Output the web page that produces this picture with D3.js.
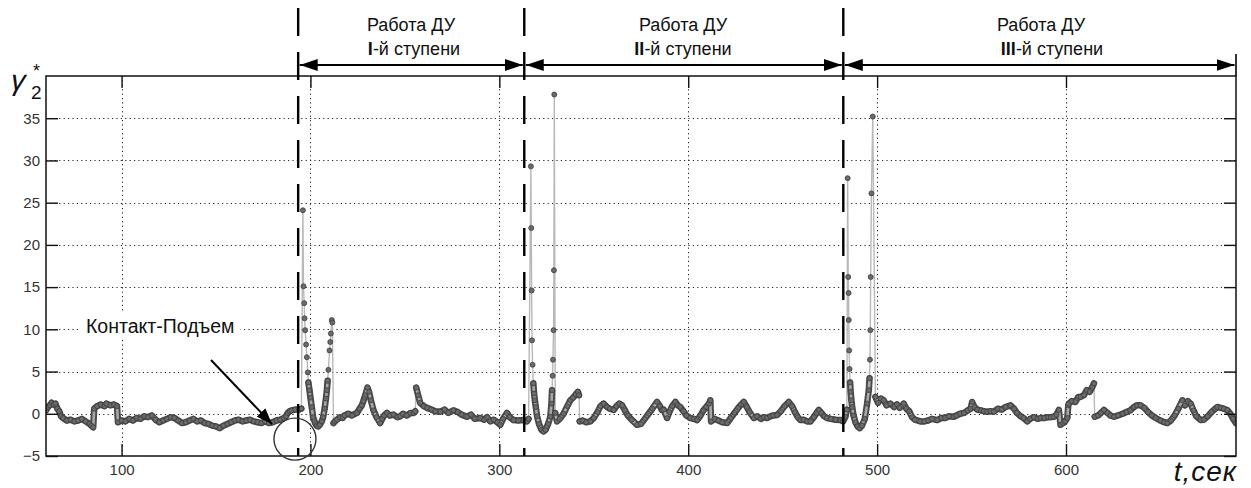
<!DOCTYPE html>
<html><head><meta charset="utf-8">
<script src="https://cdn.jsdelivr.net/npm/d3@7"></script>
<style>
html,body{margin:0;padding:0;background:#fff;}
svg{display:block;}
text{font-family:"Liberation Sans",Arial,sans-serif;}
</style></head>
<body><svg id="chart" width="1251" height="488"></svg>
<script>
// ---- data ----
const xTicks = [100, 200, 300, 400, 500, 600];
const yTicks = [-5, 0, 5, 10, 15, 20, 25, 30, 35];
const stageBounds = [193.5, 313.2, 482.1, 690];
const stageLine1 = ["Работа ДУ", "Работа ДУ", "Работа ДУ"];
const stageRoman = ["I", "II", "III"];
const stageLine2 = ["-й ступени", "-й ступени", "-й ступени"];
const annotationText = "Контакт-Подъем";

const tSec = [60,61,62,63,64,65,66,67,68,69,71,73,75,77,79,81,83,84,85,85.5,87,89,91,92,94,96,97.6,98.1,100,102,104,106,108,110,112,114,116,118,120,122,124,126,128,130,132,134,136,138,140,142,144,146,148,150,152,154,156,158,160,162,164,166,168,170,172,174,176,178,180,182,184,186,187,188,189,190,192,194,195.2,
196.0,196.3,196.7,196.9,197.2,197.7,198.1,198.6,198.9,199.5,200.0,200.7,201.4,202.5,203.3,204.1,205,206,206.7,207.5,208.2,208.7,209.1,209.5,210.1,210.5,210.8,211.3,211.6,212.2,213,214,215.7,217,218,220,222,224.6,226,227.2,228,229,230.2,231,232,233.4,235,236.9,238,239,240.5,242,244,246,247.5,249,251,253,254.6,255.5,256,257,258.1,260,261.7,264,266,268.7,271,273,275.7,278,280,282.8,285,287,289.9,292,293.5,295.2,297,299,300.5,302,304,305.5,307.5,310,312.7,314.6,315.5,
316.7,316.9,317.1,317.3,317.6,318.0,318.4,318.8,319.3,320,321,322.3,323.4,324.5,325.8,327,327.6,327.9,328.2,328.4,328.7,328.9,329.1,329.6,330.5,332,334,336,337.6,339,340.5,341.6,342.2,342.5,344,346,348.2,350,352,353.5,355.2,357,358.5,360.5,362,363.5,365,366.5,368,370,372.9,375,377,379,381,383.5,385,386,387,388.8,390,391.5,393.2,394.5,395.8,397.5,399,401.1,403,404.7,406.5,408,409.5,411,411.7,412.1,414,416,418,420.6,422.5,424.5,426.5,428,429.4,431,432.5,434.7,436.5,438.5,440,441.7,443.5,445,447,449,451,453.2,455,456.5,458,459.4,461,463,464.7,466.5,468,469.1,470.5,472,473.5,475.5,478,480.6,482,483.2,484.0,
484.4,484.7,484.9,485.0,485.2,485.4,485.7,486.0,486.4,486.8,487.5,488.5,489.7,490.8,492,493.5,494.7,495.6,496.0,496.2,496.4,496.6,497.0,497.7,499.1,500.5,502,503.5,505,507,509,510.5,512,514.1,515.5,517,518.5,520,522.9,525,527,529,531.8,534,536,538,540.6,542,544,546,548,549.5,550.3,551.5,553,555,556.5,558.3,560,561.8,564,566,568,570.6,572.5,574,576,577.5,579.5,581,583,585,586.5,588.5,590.5,592,593.6,595,596.2,597.1,598.5,599.5,600.7,601.2,601.5,603,605,606.5,607.7,609.5,611,612.5,614,614.8,615.2,617,618.5,620.1,622,623.5,625.4,627.5,630,632,634,636,637.5,639.5,641.5,643.5,645.5,647.5,650,652,653.6,655.5,657.5,659.5,661.6,663,664.5,666,667.5,669,671.3,673,675,677,679,680.1,682,683.5,685.4,687,688.5,690];

const gamma2 = [0.4,0.8,1.0,1.3,1.1,1.2,0.6,0.3,-0.3,-0.5,-0.8,-0.7,-0.9,-0.8,-0.6,-0.9,-1.2,-1.4,-1.6,0.6,0.9,1.1,0.9,1.2,1.0,1.1,0.9,-1.0,-0.8,-0.9,-0.6,-0.8,-0.5,-0.6,-0.3,-0.4,-0.2,-0.7,-1.0,-0.8,-0.6,-0.4,-0.5,-0.8,-1.1,-1.0,-0.8,-0.6,-0.9,-0.8,-1.1,-1.2,-1.4,-1.5,-1.7,-1.4,-1.2,-1.0,-0.8,-0.7,-0.9,-0.8,-0.7,-0.9,-1.0,-1.1,-0.9,-1.1,-1.0,-0.8,-0.7,-0.5,-0.3,0.1,0.3,0.4,0.5,0.5,0.6,
24.1,15.1,13.1,11.3,9.9,8.2,6.7,4.9,3.7,2.8,1.9,0.8,-0.4,-1.1,-1.4,-1.5,-1.3,-0.9,-0.4,0.6,1.8,2.8,3.9,5.2,7.5,8.5,9.5,11.1,10.8,-1.1,-0.9,-0.7,-0.4,-0.5,-0.2,0.0,-0.2,0.1,0.6,1.0,1.5,2.2,3.1,2.6,1.6,0.4,-0.4,-1.1,-0.6,-0.2,0.1,-0.2,-0.1,-0.4,-0.3,0.0,-0.2,0.1,0.1,0.3,3.1,2.2,1.3,0.9,0.7,0.5,0.3,0.25,0.5,0.1,0.4,0.2,-0.1,-0.35,-0.1,-0.6,-0.5,-0.7,-0.4,-0.9,-0.7,-1.0,-1.3,-0.6,0.1,-0.4,-0.75,-0.8,-0.75,-0.9,-0.6,
29.3,22.0,14.6,8.7,5.8,3.6,2.4,1.6,0.8,-0.3,-1.2,-1.9,-2.1,-1.9,-1.2,-0.35,1.2,2.8,4.5,6.4,9.9,17.0,37.8,0.1,-0.9,-0.6,0.0,0.9,1.6,1.9,2.3,2.6,2.2,-0.9,-0.8,-1.0,-0.9,-0.5,0.2,0.9,1.2,0.8,0.6,0.45,0.9,1.2,1.0,0.4,-0.2,-0.7,-1.3,-1.2,-0.6,0.0,0.6,1.4,0.9,0.45,0.5,-0.5,0.2,0.9,1.4,1.0,0.8,0.3,-0.2,-0.5,-0.6,-0.75,-0.2,0.4,0.8,1.2,1.6,-0.9,-0.6,-0.8,-1.0,-1.1,-0.5,0.1,0.7,1.1,1.4,0.8,0.2,-0.5,-0.3,-0.6,-0.4,-0.5,-0.3,-0.2,-0.15,0.3,0.9,1.4,0.9,0.2,-0.4,-0.75,-0.7,-0.9,-0.9,-0.4,0.1,0.45,0.1,-0.3,-0.5,-0.6,-0.7,-0.75,-0.9,-0.35,0.5,
27.9,16.2,14.3,11.1,7.5,5.3,3.7,2.6,1.6,0.8,-0.2,-1.0,-1.5,-1.7,-1.4,-0.6,1.2,2.8,4.2,6.4,9.9,16.2,26.1,35.2,2.0,1.3,1.8,1.6,1.0,1.2,0.8,1.1,0.7,1.2,0.6,0.3,-0.4,-0.7,-0.9,-0.9,-0.8,-0.6,-0.75,-0.5,-0.5,-0.3,-0.35,-0.2,0.0,0.1,0.4,0.6,1.4,0.8,0.5,0.4,0.3,0.25,0.3,0.25,0.6,0.5,0.8,1.0,0.6,0.1,-0.3,-0.5,-0.9,-0.6,-0.4,-0.6,-0.5,-0.5,-0.4,-0.4,-0.35,-0.1,0.45,-1.3,-1.1,-0.9,-0.5,1.0,1.2,1.5,1.4,2.0,2.0,2.2,2.8,2.6,3.2,3.6,-0.35,-0.2,0.1,0.45,0.1,-0.2,-0.35,-0.2,0.0,0.2,0.4,0.8,1.0,1.0,0.7,0.2,-0.2,-0.5,-0.8,-1.0,-1.1,-0.8,-0.2,0.6,1.6,1.0,1.5,1.2,0.4,-0.3,-0.75,-0.7,-0.3,0.2,0.6,0.8,0.7,0.6,0.45,0.0,-0.6,-1.1];

// ---- drawing ----
const svg = d3.select("#chart");
const m = {left: 46, right: 1236, top: 76, bottom: 456};
const x = d3.scaleLinear().domain([60, 690]).range([m.left, m.right]);
const y = d3.scaleLinear().domain([-5, 40]).range([m.bottom, m.top]);
const pw = m.right - m.left, ph = m.bottom - m.top;

svg.append("defs").append("clipPath").attr("id", "clip")
  .append("rect").attr("x", m.left).attr("y", m.top).attr("width", pw).attr("height", ph);

// grid
const grid = svg.append("g").attr("stroke", "#222").attr("stroke-width", 1).attr("stroke-dasharray", "1.2,3.2");
grid.selectAll("line.gx").data(xTicks).join("line")
  .attr("x1", d => Math.round(x(d)) + 0.5).attr("x2", d => Math.round(x(d)) + 0.5)
  .attr("y1", m.top).attr("y2", m.bottom);
grid.selectAll("line.gy").data(yTicks.filter(v => v > -5)).join("line")
  .attr("y1", d => Math.round(y(d)) + 0.5).attr("y2", d => Math.round(y(d)) + 0.5)
  .attr("x1", m.left).attr("x2", m.right);

// annotation text with white box breaking the grid
const ann = svg.append("g");
const annText = ann.append("text").attr("x", 86).attr("y", 333)
  .attr("font-size", 19.5).attr("fill", "#111").text(annotationText);
const bb = annText.node().getBBox();
ann.insert("rect", "text").attr("x", bb.x - 6).attr("y", bb.y - 2)
  .attr("width", bb.width + 12).attr("height", bb.height + 4).attr("fill", "#fff");

// data
const pts = tSec.map((t, i) => [t, gamma2[i]]);
// contiguous low-variation runs form the dense marker "band"
const runs = [];
let cur = [pts[0]];
for (let i = 1; i < pts.length; i++) {
  if (Math.abs(pts[i][1] - pts[i - 1][1]) < 2.6 && Math.abs(pts[i][1]) < 4.5 && Math.abs(pts[i-1][1]) < 4.5) cur.push(pts[i]);
  else { runs.push(cur); cur = [pts[i]]; }
}
runs.push(cur);
const line = d3.line().x(d => x(d[0])).y(d => y(d[1]));
const plot = svg.append("g").attr("clip-path", "url(#clip)");
plot.append("path").datum(pts)
  .attr("fill", "none").attr("stroke", "#b8b8b8").attr("stroke-width", 1.4)
  .attr("d", line);
plot.selectAll("path.bandO").data(runs.filter(r => r.length > 1)).join("path")
  .attr("class", "bandO").attr("fill", "none").attr("stroke", "#4a4a4a")
  .attr("stroke-width", 6.5).attr("stroke-linejoin", "round").attr("stroke-linecap", "round")
  .attr("d", line);
plot.selectAll("path.bandI").data(runs.filter(r => r.length > 1)).join("path")
  .attr("class", "bandI").attr("fill", "none").attr("stroke", "#a8a8a8")
  .attr("stroke-width", 2.6).attr("stroke-linejoin", "round").attr("stroke-linecap", "round")
  .attr("d", line);
plot.selectAll("circle").data(pts).join("circle")
  .attr("cx", d => x(d[0])).attr("cy", d => y(d[1])).attr("r", 2.5)
  .attr("fill", "#6a6a6a").attr("stroke", "#3c3c3c").attr("stroke-width", 0.8);

// axes: inward ticks on all four sides
const fmt = d3.format("d");
const axL = svg.append("g").attr("transform", `translate(${m.left},0)`)
  .call(d3.axisLeft(y).tickValues(yTicks).tickSize(-12).tickPadding(6).tickFormat(fmt));
const axB = svg.append("g").attr("transform", `translate(0,${m.bottom})`)
  .call(d3.axisBottom(x).tickValues(xTicks).tickSize(-12).tickPadding(8).tickFormat(fmt));
const axR = svg.append("g").attr("transform", `translate(${m.right},0)`)
  .call(d3.axisRight(y).tickValues(yTicks).tickSize(-12).tickFormat(""));
const axT = svg.append("g").attr("transform", `translate(0,${m.top})`)
  .call(d3.axisTop(x).tickValues(xTicks).tickSize(-12).tickFormat(""));
[axL, axB, axR, axT].forEach(g => {
  g.select(".domain").remove();
  g.selectAll(".tick line").attr("stroke", "#111").attr("stroke-width", 1.4);
  g.selectAll("text").attr("font-size", 15).attr("fill", "#333")
    .attr("font-family", "Liberation Sans, Arial, sans-serif");
});
svg.append("rect").attr("x", m.left).attr("y", m.top).attr("width", pw).attr("height", ph)
  .attr("fill", "none").attr("stroke", "#111").attr("stroke-width", 1.5);

// stage boundaries (dashed) and arrows
svg.append("defs").html(`
  <marker id="ahE" viewBox="0 0 18 12" refX="18" refY="6" markerWidth="18" markerHeight="12" markerUnits="userSpaceOnUse" orient="auto">
    <path d="M0,0 L18,6 L0,12 Z" fill="#000"/></marker>
  <marker id="ahS" viewBox="0 0 18 12" refX="0" refY="6" markerWidth="18" markerHeight="12" markerUnits="userSpaceOnUse" orient="auto">
    <path d="M18,0 L0,6 L18,12 Z" fill="#000"/></marker>
  <marker id="ahA" viewBox="0 0 16 12" refX="16" refY="6" markerWidth="16" markerHeight="12" markerUnits="userSpaceOnUse" orient="auto">
    <path d="M0,0 L16,6 L0,12 Z" fill="#000"/></marker>`);

svg.selectAll("line.stage").data(stageBounds.slice(0, 3)).join("line")
  .attr("class", "stage")
  .attr("x1", d => x(d)).attr("x2", d => x(d))
  .attr("y1", 8).attr("y2", m.bottom)
  .attr("stroke", "#000").attr("stroke-width", 2.4).attr("stroke-dasharray", "28,16");
svg.append("line").attr("x1", x(stageBounds[3])).attr("x2", x(stageBounds[3]))
  .attr("y1", 54).attr("y2", m.top).attr("stroke", "#000").attr("stroke-width", 1.6);

const arrowY = 65;
d3.range(3).forEach(i => {
  const x0 = x(stageBounds[i]) + 1.5, x1 = x(stageBounds[i + 1]) - 1.5;
  svg.append("line").attr("x1", x0).attr("x2", x1).attr("y1", arrowY).attr("y2", arrowY)
    .attr("stroke", "#000").attr("stroke-width", 2)
    .attr("marker-start", "url(#ahS)").attr("marker-end", "url(#ahE)");
});

const centers1 = [411, 683, 1041];
const centers2 = [414, 683, 1052];
d3.range(3).forEach(i => {
  svg.append("text").attr("x", centers1[i]).attr("y", 31).attr("text-anchor", "middle")
    .attr("font-size", 18).attr("fill", "#111").text(stageLine1[i]);
  const t2 = svg.append("text").attr("x", centers2[i]).attr("y", 55).attr("text-anchor", "middle")
    .attr("font-size", 18).attr("fill", "#111");
  t2.append("tspan").attr("font-weight", "bold").text(stageRoman[i]);
  t2.append("tspan").text(stageLine2[i]);
});

// contact annotation arrow & circle
svg.append("line").attr("x1", 211).attr("y1", 360).attr("x2", 272).attr("y2", 424)
  .attr("stroke", "#000").attr("stroke-width", 2).attr("marker-end", "url(#ahA)");
svg.append("circle").attr("cx", x(191.8)).attr("cy", y(-3.0)).attr("r", 21)
  .attr("fill", "none").attr("stroke", "#333").attr("stroke-width", 1.4);

// axis titles
svg.append("text").attr("transform", "translate(9,90) skewX(-14)").attr("font-size", 29)
  .attr("font-family", "DejaVu Serif, serif").attr("fill", "#111").text("γ");
svg.append("text").attr("x", 31).attr("y", 99).attr("font-size", 19)
  .attr("font-family", "Liberation Serif, serif").attr("fill", "#111").text("2");
svg.append("text").attr("x", 33).attr("y", 77).attr("font-size", 18)
  .attr("font-family", "Liberation Serif, serif").attr("fill", "#111").text("*");
svg.append("text").attr("x", 1237).attr("y", 481).attr("text-anchor", "end")
  .attr("font-family", "Liberation Serif, Times New Roman, serif").attr("font-style", "italic")
  .attr("font-size", 28).attr("fill", "#111").attr("letter-spacing", 1).text("t,сек");
</script></body></html>
